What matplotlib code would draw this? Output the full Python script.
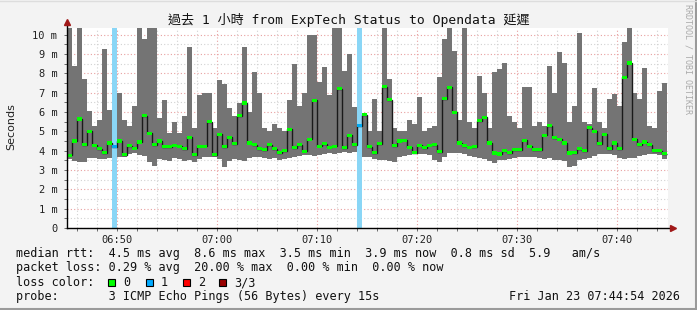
import matplotlib
matplotlib.use("Agg")
import matplotlib.pyplot as plt
import matplotlib.dates as mdates
from matplotlib.ticker import MultipleLocator, FuncFormatter
from matplotlib.patches import Rectangle
from matplotlib.lines import Line2D
import numpy as np
import pandas as pd

# data: 30s steps from 06:45 to 07:45, values in ms
start = "2026-01-23 06:45:00"
loss_times = ["2026-01-23 06:49:30", "2026-01-23 07:14:00"]

smoke_max = [11, 8.4, 11, 7.7, 6.05, 5.3, 5.6, 9.25, 6.1, 4.5,
             6.97, 5.6, 5.3, 6.3, 11, 9.8, 11, 11, 5.7, 6.62,
             4.9, 5.5, 4.9, 5.8, 9.35, 5.2, 6.88, 6.97, 6.97, 5.2,
             7.66, 7.43, 6.2, 5.8, 6.45, 9.35, 6.0, 8.07, 7.0, 5.2,
             5.0, 5.4, 5.2, 5.0, 6.62, 8.48, 6.3, 7.0, 9.98, 9.98,
             7.57, 8.33, 6.86, 11, 11, 8.1, 9.0, 6.28, 5.4, 5.9,
             5.0, 6.7, 5.0, 11, 7.71, 5.2, 5.0, 5.0, 5.6, 5.4,
             6.8, 5.0, 5.2, 5.3, 7.83, 9.78, 11, 9.16, 5.6, 11,
             5.5, 5.2, 7.86, 7.0, 5.2, 8.07, 8.24, 8.52, 5.8, 5.5,
             5.2, 7.3, 7.3, 5.3, 5.5, 5.3, 8.38, 7.0, 9.13, 8.52,
             5.5, 6.3, 10.1, 5.5, 5.4, 7.24, 5.5, 5.2, 6.7, 6.93,
             6.3, 9.64, 11, 6.97, 6.7, 8.26, 5.3, 5.2, 7.1, 7.5]

smoke_min = [3.55, 3.45, 3.4, 3.4, 3.6, 3.6, 3.55, 3.55, 3.6, 3.95,
             3.7, 3.7, 3.85, 3.9, 3.8, 3.75, 3.4, 3.2, 3.55, 3.5,
             3.45, 3.6, 3.55, 3.45, 3.5, 3.4, 3.55, 3.7, 3.65, 3.7,
             3.55, 3.15, 3.45, 3.55, 3.5, 3.45, 3.6, 3.65, 3.7, 3.6,
             3.55, 3.6, 3.5, 3.55, 3.6, 3.7, 3.75, 3.8, 3.8, 3.75,
             3.8, 3.85, 3.9, 3.85, 3.9, 3.95, 3.9, 3.95, 4.0, 3.7,
             3.65, 3.55, 3.5, 3.5, 3.45, 3.4, 3.7, 3.75, 3.8, 3.85,
             3.85, 3.85, 3.8, 3.5, 3.4, 3.7, 3.9, 3.9, 3.9, 3.85,
             3.75, 3.65, 3.6, 3.55, 3.45, 3.35, 3.5, 3.5, 3.55, 3.6,
             3.65, 3.7, 3.65, 3.7, 3.6, 3.55, 3.6, 3.5, 3.5, 3.45,
             3.15, 3.2, 3.5, 3.55, 3.6, 3.75, 3.85, 3.85, 3.85, 3.8,
             3.6, 3.55, 3.6, 3.6, 3.75, 3.8, 3.85, 3.85, 3.8, 3.55]

median = [3.76, 4.5, 5.64, 4.32, 5.0, 4.28, 4.11, 3.9, 4.4, 4.2,
          4.5, 3.8, 4.26, 4.12, 4.45, 5.8, 4.9, 4.3, 4.5, 4.2,
          4.2, 4.28, 4.23, 4.1, 4.7, 3.8, 4.23, 4.23, 5.5, 3.8,
          4.85, 4.2, 4.7, 4.35, 5.8, 6.47, 4.4, 4.3, 4.1, 4.06,
          4.32, 4.1, 3.9, 4.0, 5.1, 4.15, 4.3, 3.97, 4.6, 6.6,
          4.23, 4.35, 4.18, 4.23, 7.2, 4.15, 4.8, 4.3, 5.3, 5.87,
          4.2, 3.9, 4.35, 7.3, 6.64, 4.25, 4.5, 4.55, 4.18, 3.9,
          4.28, 4.15, 4.27, 4.3, 3.95, 6.7, 7.28, 6.0, 4.4, 4.25,
          4.17, 4.2, 5.56, 5.73, 4.4, 3.88, 3.83, 4.0, 3.9, 4.06,
          4.06, 4.55, 4.23, 4.06, 4.05, 4.8, 5.3, 4.67, 4.6, 4.4,
          3.88, 3.9, 4.11, 4.0, 5.18, 5.0, 4.35, 4.85, 4.11, 4.4,
          4.1, 7.8, 8.54, 4.6, 4.3, 4.45, 4.32, 4.0, 4.0, 3.85]

title = "過去 1 小時 from ExpTech Status to Opendata 延遲"

mono = "DejaVu Sans Mono"
W, H = 697, 310

edges = mdates.date2num(pd.date_range(start, periods=len(median) + 1, freq="30s"))
step = edges[1] - edges[0]
loss_x = mdates.date2num(pd.to_datetime(loss_times))

fig = plt.figure(figsize=(W / 100, H / 100), dpi=100, facecolor="#f3f3f3")
ax = fig.add_axes([67 / W, 1 - 228 / H, 601 / W, 200 / H])
ax.set_facecolor("white")

# smoke
ax.stairs(smoke_max, edges, baseline=smoke_min, fill=True, color="#747474", lw=0, zorder=2)

# loss background
for lx in loss_x:
    ax.axvspan(lx, lx + step, color="#8ad6f6", lw=0, zorder=3)

# median
ax.stairs(median, edges, baseline=None, color="#1a1a1a", lw=1.0, zorder=4)
cols = ["#00a8f0" if any(abs(e - lx) < 1e-7 for lx in loss_x) else "#00ff00" for e in edges[:-1]]
ax.bar(edges[:-1], 0.16, bottom=np.array(median) - 0.08, width=step, align="edge",
       color=cols, lw=0, zorder=5)

ax.set_xlim(edges[0], edges[0] + step * 120.2)
ax.set_ylim(0, 10.35)

ax.xaxis.set_major_locator(mdates.MinuteLocator(byminute=range(0, 60, 10)))
ax.xaxis.set_minor_locator(mdates.MinuteLocator(byminute=range(0, 60, 2)))
ax.xaxis.set_major_formatter(mdates.DateFormatter("%H:%M"))
ax.yaxis.set_major_locator(MultipleLocator(1))
ax.yaxis.set_minor_locator(MultipleLocator(0.5))
ax.yaxis.set_major_formatter(FuncFormatter(lambda v, p: "0" if v == 0 else "%d m" % v))

ax.set_axisbelow(True)
ax.grid(which="minor", color="#d2d2d2", ls=(0, (1, 2)), lw=0.8)
ax.grid(which="major", color="#e8a0a0", ls=(0, (1, 2)), lw=0.8)

for s in ax.spines.values():
    s.set_visible(False)
ax.tick_params(which="both", length=2, width=0.6, color="#555555", labelsize=7.5,
               labelcolor="#222222")
ax.tick_params(axis="x", pad=3)
ax.tick_params(axis="y", pad=5)
for lab in ax.get_xticklabels() + ax.get_yticklabels():
    lab.set_family(mono)

# axis lines with arrows
ax.plot([0, 0], [0, 1.03], transform=ax.transAxes, color="black", lw=1, clip_on=False, zorder=6)
ax.plot([0, 1.008], [0, 0], transform=ax.transAxes, color="black", lw=1, clip_on=False, zorder=6)
ax.plot([0], [1.03], marker="^", ms=5, color="#a01818", transform=ax.transAxes, clip_on=False, zorder=7)
ax.plot([1.008], [0], marker=">", ms=5, color="#a01818", transform=ax.transAxes, clip_on=False, zorder=7)

fig.text(0.5, 1 - 20 / H, title, ha="center", va="center", fontsize=9.4,
         family=[mono, "Noto Sans CJK TC"], color="#111111")
fig.text(11 / W, 1 - 127 / H, "Seconds", rotation=90, ha="center", va="center",
         fontsize=8, family="DejaVu Sans", color="#222222")
fig.text(688 / W, 1 - 59 / H, "RRDTOOL / TOBI OETIKER", rotation=270, ha="center",
         va="center", fontsize=6, family=mono, color="#aaaaaa")

# legend
lines = [
    (254, "median rtt:  4.5 ms avg  8.6 ms max  3.5 ms min  3.9 ms now  0.8 ms sd  5.9   am/s"),
    (268, "packet loss: 0.29 % avg  20.00 % max  0.00 % min  0.00 % now"),
    (282.5, "loss color:"),
    (296.5, "probe:       3 ICMP Echo Pings (56 Bytes) every 15s"),
]
for y, txt in lines:
    fig.text(16 / W, 1 - y / H, txt, ha="left", va="center", fontsize=8.5, family=mono, color="#111111")
fig.text(680 / W, 1 - 296.5 / H, "Fri Jan 23 07:44:54 2026", ha="right", va="center",
         fontsize=8.5, family=mono, color="#111111")

loss_labels = ["0", "1", "2", "3/3"]
loss_colors = ["#00ff00", "#00aaff", "#ff0000", "#990000"]
box_x = [108, 146, 183, 219]
for bx, lab, c in zip(box_x, loss_labels, loss_colors):
    fig.patches.append(Rectangle((bx / W, 1 - 286 / H), 7 / W, 7 / H, transform=fig.transFigure,
                                 fc=c, ec="black", lw=0.8))
    fig.text((bx + 15) / W, 1 - 282.5 / H, lab, ha="left", va="center", fontsize=8.5,
             family=mono, color="#111111")

# frame
fig.lines.append(Line2D([695.5 / W, 695.5 / W], [0, 1], transform=fig.transFigure, color="#9a9a9a", lw=1.5))
fig.lines.append(Line2D([0, 1], [1.5 / H, 1.5 / H], transform=fig.transFigure, color="#9a9a9a", lw=1.5))
fig.lines.append(Line2D([0, 1], [1 - 0.5 / H, 1 - 0.5 / H], transform=fig.transFigure, color="#dddddd", lw=1))

fig.savefig("out.png", dpi=100, facecolor=fig.get_facecolor())
